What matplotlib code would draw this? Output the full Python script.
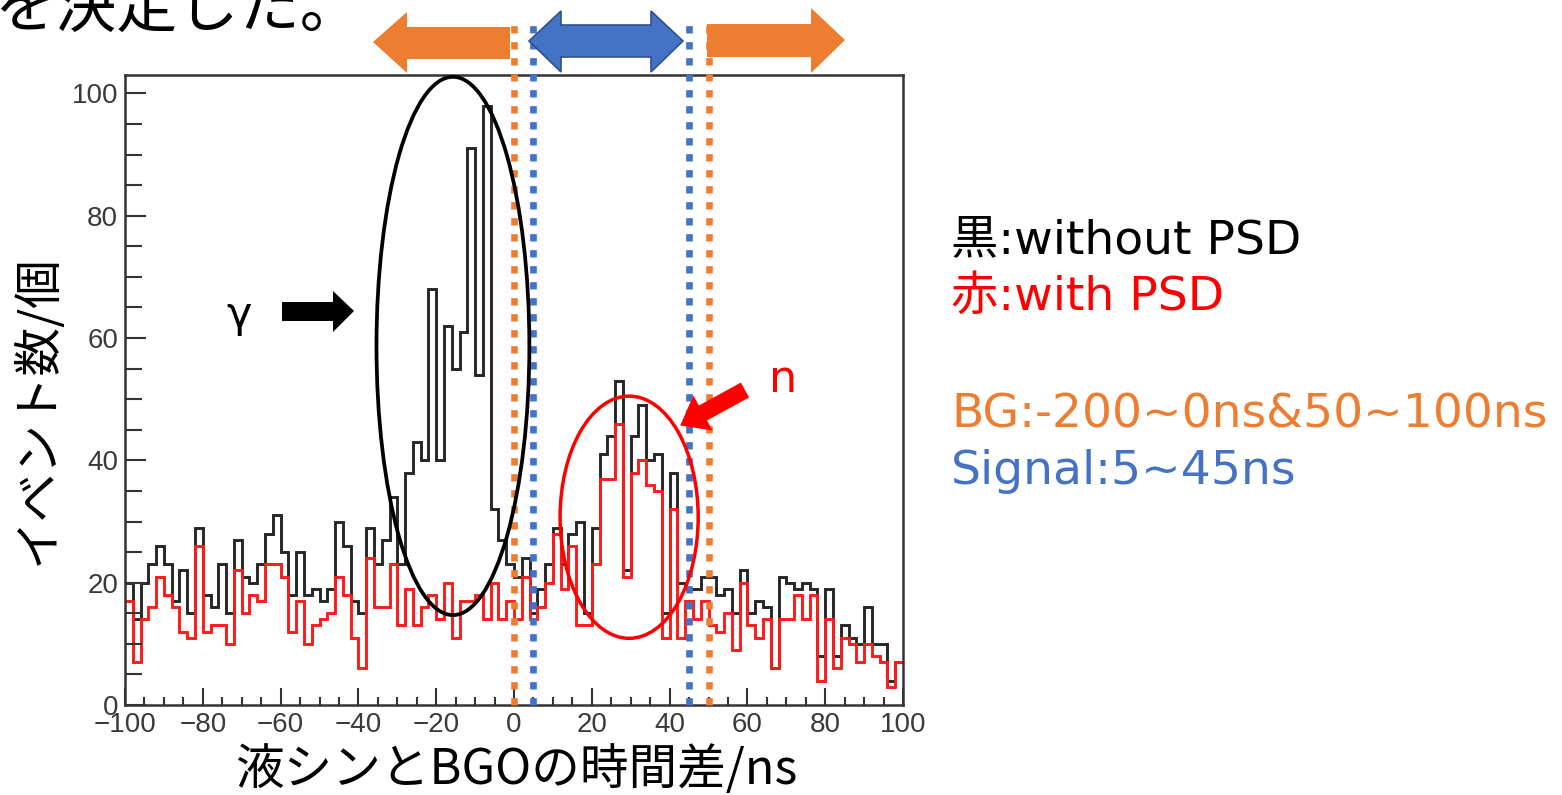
import numpy as np
import matplotlib
matplotlib.use("Agg")
import matplotlib.pyplot as plt
from matplotlib.patches import Ellipse, Polygon, FancyArrow
from matplotlib.ticker import MultipleLocator

plt.rcParams['font.family'] = ['DejaVu Sans', 'Noto Sans CJK JP']

# time difference histogram, 2 ns bins from -100 to 100 ns
edges = np.arange(-100, 101, 2)
without_psd = [20, 14, 20, 23, 26, 23, 17, 22, 15, 29,
               18, 16, 23, 15, 27, 21, 20, 23, 28, 31,
               25, 18, 25, 18, 19, 17, 19, 30, 26, 17,
               15, 29, 23, 27, 34, 23, 38, 43, 40, 68,
               40, 62, 55, 61, 91, 54, 98, 32, 27, 23,
               21, 24, 15, 19, 23, 29, 23, 28, 30, 15,
               29, 41, 44, 53, 22, 44, 49, 40, 41, 15,
               38, 20, 19, 19, 21, 21, 18, 19, 15, 22,
               15, 17, 16, 6, 21, 20, 19, 20, 19, 8,
               19, 8, 13, 11, 10, 16, 10, 10, 4, 7]
with_psd = [17, 7, 14, 16, 21, 18, 16, 12, 11, 26,
            12, 13, 13, 10, 22, 15, 18, 17, 23, 23,
            21, 12, 17, 10, 13, 14, 15, 21, 18, 11,
            6, 24, 16, 16, 23, 13, 19, 13, 16, 18,
            14, 20, 11, 17, 17, 18, 14, 20, 14, 17,
            14, 21, 14, 16, 20, 28, 19, 26, 13, 13,
            23, 37, 37, 46, 21, 38, 40, 36, 35, 11,
            32, 11, 17, 14, 17, 13, 12, 15, 9, 20,
            13, 11, 14, 6, 14, 14, 18, 14, 18, 4,
            14, 6, 11, 10, 7, 10, 8, 7, 3, 7]

bg_cuts = [0, 50]
signal_cuts = [5, 45]
xticks = np.arange(-100, 101, 20)
yticks = np.arange(0, 101, 20)

ORANGE = '#ED7D31'
BLUE = '#4472C4'

fig = plt.figure(figsize=(15.62, 7.95), dpi=100)
ax = fig.add_axes([125/1562, 90/795, 778/1562, 630/795])

ax.stairs(without_psd, edges, baseline=None, color='#262626', lw=2.1)
ax.stairs(with_psd, edges, baseline=None, color='#ff1a1a', lw=2.1)

ax.set_xlim(-100, 100)
ax.set_ylim(0, 103)
ax.set_xticks(xticks)
ax.set_yticks(yticks)
ax.xaxis.set_minor_locator(MultipleLocator(5))
ax.yaxis.set_minor_locator(MultipleLocator(5))
ax.tick_params(which='both', direction='in', top=False, right=False,
               width=1.5, colors='#333333')
ax.tick_params(axis='x', which='major', length=12, pad=5)
ax.tick_params(axis='x', which='minor', length=6)
ax.tick_params(axis='y', which='major', length=15, pad=5)
ax.tick_params(axis='y', which='minor', length=12)
for lab in ax.get_xticklabels() + ax.get_yticklabels():
    lab.set_family('Liberation Sans')
    lab.set_fontsize(20)
    lab.set_color('#3a3a3a')
for sp in ax.spines.values():
    sp.set_linewidth(1.8)
    sp.set_color('#333333')

# cut windows, extended above the frame
for x in bg_cuts:
    ax.plot([x, x], [0, 112.5], color=ORANGE, lw=4.8, dashes=(1.1, 1.3),
            solid_capstyle='butt', dash_capstyle='butt', clip_on=False, zorder=5)
for x in signal_cuts:
    ax.plot([x, x], [0, 112.5], color=BLUE, lw=4.8, dashes=(1.1, 1.3),
            solid_capstyle='butt', dash_capstyle='butt', clip_on=False, zorder=5)

ax.add_patch(Ellipse((-15.7, 58.7), 39.3, 88, fill=False, ec='black', lw=2.7,
                     clip_on=False, zorder=6))
ax.add_patch(Ellipse((29.6, 30.7), 35.5, 39.6, fill=False, ec='#ff0000', lw=2.5,
                     clip_on=False, zorder=6))

# overlay in pixel coordinates for the annotations
ov = fig.add_axes([0, 0, 1, 1], zorder=10)
ov.set_xlim(0, 1562)
ov.set_ylim(795, 0)
ov.axis('off')
ov.patch.set_alpha(0)

ov.text(-6, 27, 'を決定した。', fontsize=44, family='Noto Sans CJK JP',
        ha='left', va='baseline')

# window arrows
ov.add_patch(Polygon([(373, 42), (407, 12), (407, 27), (510, 27), (510, 59),
                      (407, 59), (407, 73)], closed=True, fc=ORANGE, ec='none'))
ov.add_patch(Polygon([(845, 40), (811, 8), (811, 24), (707, 24), (707, 57),
                      (811, 57), (811, 73)], closed=True, fc=ORANGE, ec='none'))
ov.add_patch(Polygon([(529, 41), (561, 11), (561, 25), (651, 25), (651, 11),
                      (683, 41), (651, 72), (651, 57), (561, 57), (561, 72)],
                     closed=True, fc=BLUE, ec='#2F528F', lw=1.2))

# gamma and neutron markers
ov.text(239, 327, 'γ', fontsize=31, ha='center', va='baseline')
ov.add_patch(Polygon([(282, 302), (333, 302), (333, 291), (354, 311),
                      (333, 332), (333, 321), (282, 321)], closed=True,
                     fc='black', ec='none'))
ov.text(783, 392, 'n', fontsize=32, color='#ff0000', ha='center', va='baseline')
ov.add_patch(FancyArrow(745, 390, -42, 23, width=17, head_width=40,
                        head_length=26, length_includes_head=False,
                        fc='#ff0000', ec='none'))

ov.text(951, 253, '黒:without PSD', fontsize=34, color='black', va='baseline')
ov.text(951, 310, '赤:with PSD', fontsize=34, color='#ff0000', va='baseline')
ov.text(951, 427, 'BG:-200~0ns&50~100ns', fontsize=34, color=ORANGE, va='baseline')
ov.text(951, 484, 'Signal:5~45ns', fontsize=34, color=BLUE, va='baseline')

ov.text(38, 410, 'イベント数/個', fontsize=35, family='Noto Sans CJK JP',
        rotation=90, ha='center', va='center')
ov.text(516, 770, '液シンとBGOの時間差/ns', fontsize=35, family='Noto Sans CJK JP',
        ha='center', va='center')

fig.savefig('out.png', dpi=100)
